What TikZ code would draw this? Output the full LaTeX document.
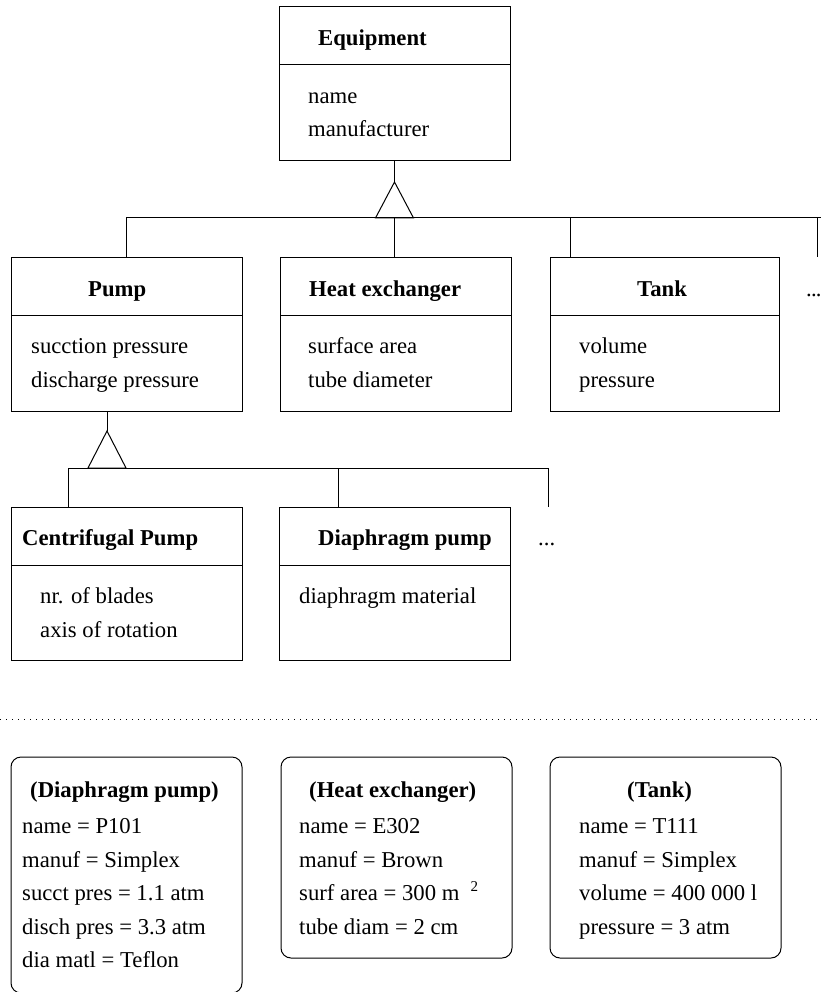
\documentclass[tikz,border=0pt]{standalone}
\usepackage{fontspec}
\setmainfont{Liberation Serif}
\begin{document}
\begin{tikzpicture}[x=1pt,y=-1pt,
  cls/.style={draw, line width=1pt, inner sep=0pt, outer sep=0pt, anchor=north west, minimum width=231pt, minimum height=154pt},
  inst/.style={draw, line width=1pt, rounded corners=10pt, inner sep=0pt, outer sep=0pt, anchor=north west, minimum width=231pt},
  ttl/.style={anchor=base west, inner sep=0pt, font=\fontsize{22.7}{27}\selectfont\bfseries},
  txt/.style={anchor=base west, inner sep=0pt, font=\fontsize{22.7}{27}\selectfont},
  conn/.style={line width=1pt},
  sep/.style={line width=1pt, dash pattern=on 1pt off 5pt}]
\useasboundingbox (0,0) rectangle (821,992);
\clip (0,0) rectangle (821,992);
\fill[white] (0,0) rectangle (821,992);

% ---------- class boxes ----------
\node[cls] (equip) at (279,7) {};
\node[cls] (pump)  at (11,257) {};
\node[cls] (heat)  at (280,257) {};
\node[cls, minimum width=229pt] (tank)  at (550,257) {};
\node[cls, minimum height=153pt] (cent)  at (11,507) {};
\node[cls, minimum height=153pt] (diaph) at (279,507) {};

\foreach \b in {equip,pump,heat,tank,cent,diaph}
  \draw[conn] ([yshift=-58pt]\b.north west) -- ([yshift=-58pt]\b.north east);

% titles and attributes
\node[ttl] (equipT) at (318,46) {Equipment};
\node[txt] (equipA1) at (308,103.5) {name};
\node[txt] (equipA2) at (308,137) {manufacturer};

\node[ttl] (pumpT) at (88,296) {Pump};
\node[txt] (pumpA1) at (31,353) {sucction pressure};
\node[txt] (pumpA2) at (31,387) {discharge pressure};

\node[ttl] (heatT) at (309,296) {Heat exchanger};
\node[txt] (heatA1) at (308,353) {surface area};
\node[txt] (heatA2) at (308,387) {tube diameter};

\node[ttl] (tankT) at (637,296) {Tank};
\node[txt] (tankA1) at (579,353) {volume};
\node[txt] (tankA2) at (579,387) {pressure};

\node[txt] (dots1) at (806,296) {.\kern-0.8pt.\kern-0.8pt.};

\node[ttl] (centT) at (22,545) {Centrifugal Pump};
\node[txt] (centA1) at (40,603) {nr. of blades};
\node[txt] (centA2) at (40,637) {axis of rotation};

\node[ttl] (diaphT) at (318,545) {Diaphragm pump};
\node[txt] (diaphA1) at (299,603) {diaphragm material};

\node[txt] (dots2) at (538,545) {...};

% ---------- generalisation: level 1 ----------
\coordinate (t1) at (394.5,182);
\coordinate (h1L) at (126,218);
\coordinate (h1R) at (821,218);
\coordinate (j3) at (570,218);
\coordinate (j4) at (817,218);
\coordinate (j4e) at (817,257);
\draw[conn] (equip.south) -- (t1);
\draw[conn, line join=miter] (t1) -- ++(-19,36) -- ++(38,0) -- cycle;
\draw[conn] (h1L) -- (h1R);
\draw[conn] (h1L) -- (h1L |- pump.north);
\draw[conn] (t1 |- h1L) -- (t1 |- heat.north);
\draw[conn] (j3) -- (j3 |- tank.north);
\draw[conn] (j4) -- (j4e);

% ---------- generalisation: level 2 ----------
\coordinate (t2) at (107,431);
\coordinate (h2L) at (68,468);
\coordinate (h2R) at (548,468);
\coordinate (k2) at (338,468);
\coordinate (h2Re) at (548,507);
\draw[conn] (t2 |- pump.south) -- (t2);
\draw[conn, line join=miter] (t2) -- ++(-19,37) -- ++(38,0) -- cycle;
\draw[conn] (h2L) -- (h2R);
\draw[conn] (h2L) -- (h2L |- cent.north);
\draw[conn] (k2) -- (k2 |- diaph.north);
\draw[conn] (h2R) -- (h2Re);

% ---------- separator ----------
\coordinate (sL) at (0,719);
\coordinate (sR) at (821,719);
\draw[sep] (sL) -- (sR);

% ---------- instances ----------
\node[inst, minimum height=236pt] (i1) at (11,757) {};
\node[inst, minimum height=201pt] (i2) at (281,757) {};
\node[inst, minimum height=201pt] (i3) at (550,757) {};

\node[ttl] (i1T) at (30,797) {(Diaphragm pump)};
\node[txt] (i1a) at (22,833) {name = P101};
\node[txt] (i1b) at (22,867) {manuf = Simplex};
\node[txt] (i1c) at (22,900) {succt pres = 1.1 atm};
\node[txt] (i1d) at (22,934) {disch pres = 3.3 atm};
\node[txt] (i1e) at (22,967) {dia matl = Teflon};

\node[ttl] (i2T) at (309,797) {(Heat exchanger)};
\node[txt] (i2a) at (299,833) {name = E302};
\node[txt] (i2b) at (299,867) {manuf = Brown};
\node[txt] (i2c) at (299,900) {surf area = 300 m\hspace{11pt}\raisebox{9pt}{\fontsize{15}{15}\selectfont 2}};
\node[txt] (i2d) at (299,934) {tube diam = 2 cm};

\node[ttl] (i3T) at (627,797) {(Tank)};
\node[txt] (i3a) at (579,833) {name = T111};
\node[txt] (i3b) at (579,867) {manuf = Simplex};
\node[txt] (i3c) at (579,900) {volume = 400 000 l};
\node[txt] (i3d) at (579,934) {pressure = 3 atm};
\end{tikzpicture}
\end{document}
